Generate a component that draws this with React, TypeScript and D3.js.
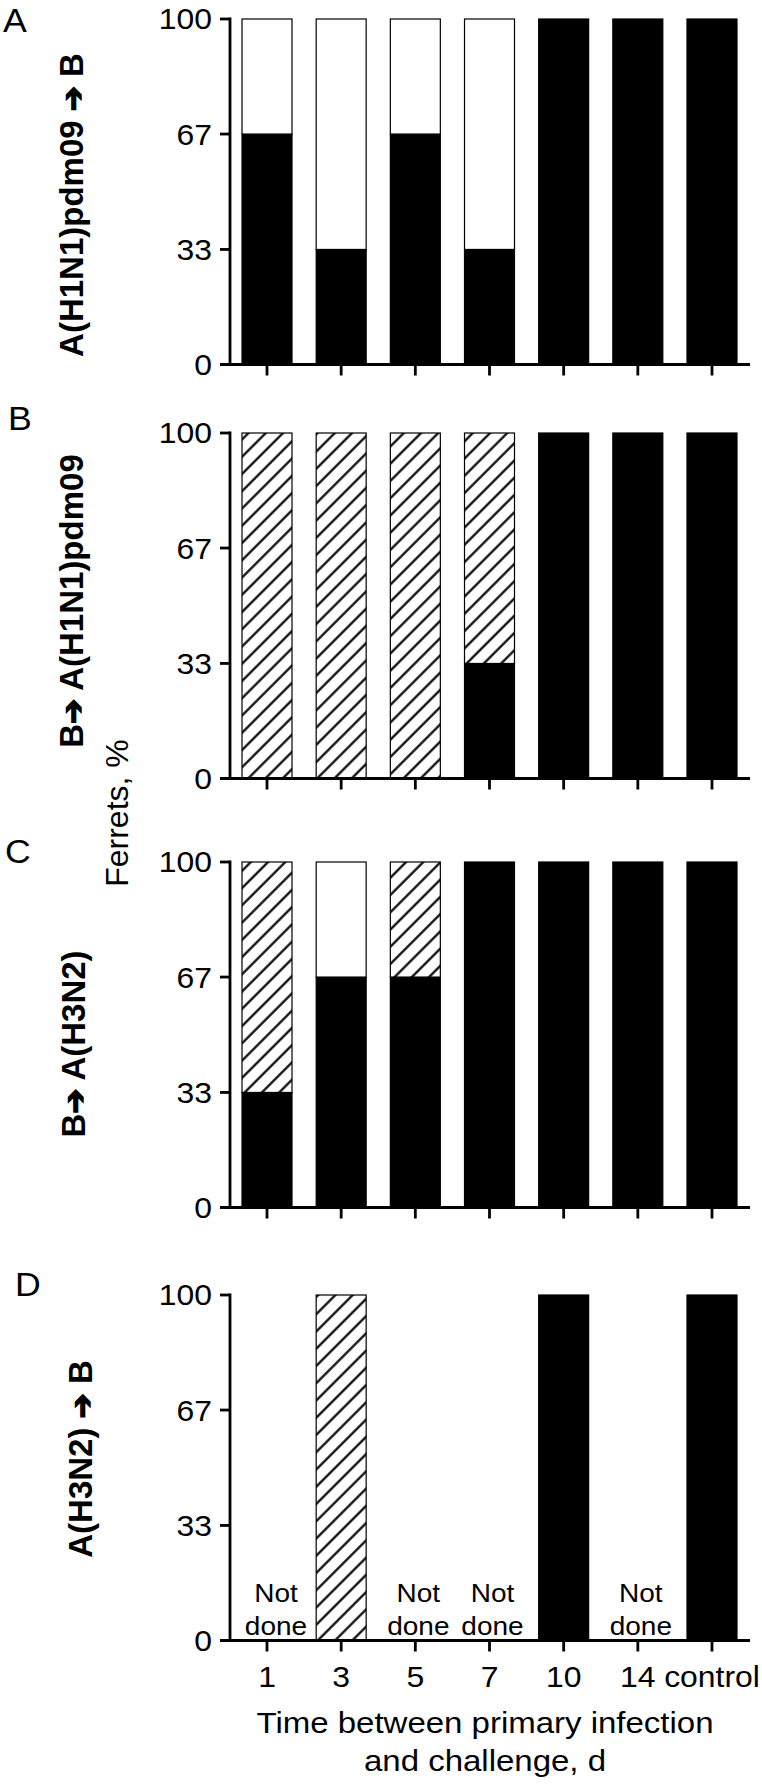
import React, { useEffect } from "react";
import * as d3 from "d3";

// ---------- data ----------
const categories = ["1", "3", "5", "7", "10", "14", "control"];
const yTickValues = [0, 33.3, 66.7, 100];
const yTickLabels = ["0", "33", "67", "100"];
const panelLetters = ["A", "B", "C", "D"];
const panelTitles = [
  ["A(H1N1)pdm09 ", "➔", " B"],
  ["B", "➔", " A(H1N1)pdm09"],
  ["B", "➔", " A(H3N2)"],
  ["A(H3N2) ", "➔", " B"],
];
const yAxisTitle = "Ferrets, %";
const xAxisTitle = ["Time between primary infection", "and challenge, d"];
const notDoneText = ["Not", "done"];

// per panel: black (bottom), hatched (middle), open/white (top)
const aBlack = [66.7, 33.3, 66.7, 33.3, 100, 100, 100];
const aHatched = [0, 0, 0, 0, 0, 0, 0];
const aOpen = [33.3, 66.7, 33.3, 66.7, 0, 0, 0];

const bBlack = [0, 0, 0, 33.3, 100, 100, 100];
const bHatched = [100, 100, 100, 66.7, 0, 0, 0];
const bOpen = [0, 0, 0, 0, 0, 0, 0];

const cBlack = [33.3, 66.7, 66.7, 100, 100, 100, 100];
const cHatched = [66.7, 0, 33.3, 0, 0, 0, 0];
const cOpen = [0, 33.3, 0, 0, 0, 0, 0];

const dBlack = [0, 0, 0, 0, 100, 0, 100];
const dHatched = [0, 100, 0, 0, 0, 0, 0];
const dOpen = [0, 0, 0, 0, 0, 0, 0];
const dDone = [false, true, false, false, true, false, true];

const panelSeries = [
  { black: aBlack, hatched: aHatched, open: aOpen, done: null as boolean[] | null },
  { black: bBlack, hatched: bHatched, open: bOpen, done: null },
  { black: cBlack, hatched: cHatched, open: cOpen, done: null },
  { black: dBlack, hatched: dHatched, open: dOpen, done: dDone },
];

// ---------- layout ----------
const W = 762;
const H = 1785;
const FONT = "'Liberation Sans', Arial, Helvetica, sans-serif";
const SX = 1.1; // horizontal stretch of the original typesetting
const panelTops = [19, 433, 862, 1295];
const panelH = 345.5;
const axisX = 230;
const letterPos = [
  [3, 32],
  [8, 430],
  [5, 863],
  [15, 1296],
];
const titlePos = [
  [83, 205],
  [83, 601],
  [85, 1044],
  [92, 1459],
];

const x = d3
  .scaleBand<string>()
  .domain(categories)
  .range([axisX, 749])
  .paddingInner(0.326)
  .paddingOuter(0.162);

const keys = ["black", "hatched", "open"] as const;
const fills: Record<string, string> = {
  black: "#000",
  hatched: "url(#hatch)",
  open: "#fff",
};

function SText({
  x: tx,
  y: ty,
  size,
  anchor = "start",
  sx = SX,
  dy,
  children,
}: {
  x: number;
  y: number;
  size: number;
  anchor?: string;
  sx?: number;
  dy?: string;
  children: React.ReactNode;
}) {
  return (
    <text
      transform={`translate(${tx},${ty}) scale(${sx},1)`}
      textAnchor={anchor as any}
      dy={dy}
      fontFamily={FONT}
      fontSize={size}
      fill="#000"
    >
      {children}
    </text>
  );
}

function Panel({ idx }: { idx: number }) {
  const top = panelTops[idx];
  const y = d3.scaleLinear().domain([0, 100]).range([top + panelH, top]);
  const s = panelSeries[idx];
  const rows = categories.map((c, i) => ({
    cat: c,
    black: s.black[i],
    hatched: s.hatched[i],
    open: s.open[i],
  }));
  const stack = d3.stack<any>().keys(keys as any)(rows);
  const bw = x.bandwidth();
  const isLast = idx === panelTops.length - 1;
  const [tx, ty] = titlePos[idx];
  const [lx, ly] = letterPos[idx];
  const title = panelTitles[idx];

  return (
    <g>
      {stack.map((layer) =>
        layer.map((d, i) => {
          const h = y(d[0]) - y(d[1]);
          if (h <= 0) return null;
          const key = layer.key;
          return (
            <rect
              key={key + i}
              x={x(categories[i])!}
              y={y(d[1])}
              width={bw}
              height={h}
              fill={fills[key]}
              stroke="#000"
              strokeWidth={1.2}
            />
          );
        })
      )}
      {s.done &&
        s.done.map((dn, i) => {
          if (dn) return null;
          const cx = x(categories[i])! + bw / 2 + (i === 0 ? 9 : 3);
          return (
            <g key={"nd" + i}>
              <SText x={cx} y={y(0) - 39} size={25} anchor="middle" sx={1.12}>
                {notDoneText[0]}
              </SText>
              <SText x={cx} y={y(0) - 6} size={25} anchor="middle" sx={1.12}>
                {notDoneText[1]}
              </SText>
            </g>
          );
        })}
      <line x1={axisX} x2={axisX} y1={y(100)} y2={y(0)} stroke="#000" strokeWidth={2.8} strokeLinecap="square" />
      {yTickValues.map((v, i) => (
        <g key={"yt" + i}>
          <line x1={axisX - 10} x2={axisX} y1={y(v)} y2={y(v)} stroke="#000" strokeWidth={2.8} />
          <SText x={212} y={y(v)} size={29} anchor="end" dy="0.36em">
            {yTickLabels[i]}
          </SText>
        </g>
      ))}
      <line x1={axisX - 10} x2={750} y1={y(0)} y2={y(0)} stroke="#000" strokeWidth={2.8} />
      {categories.map((c) => (
        <line
          key={"xt" + c}
          x1={x(c)! + bw / 2}
          x2={x(c)! + bw / 2}
          y1={y(0)}
          y2={y(0) + 11}
          stroke="#000"
          strokeWidth={2.8}
        />
      ))}
      {isLast &&
        categories.map((c) => (
          <SText key={"xl" + c} x={x(c)! + bw / 2} y={y(0) + 46} size={29} anchor="middle">
            {c}
          </SText>
        ))}
      <SText x={lx} y={ly} size={33} sx={1.08}>
        {panelLetters[idx]}
      </SText>
      <text
        transform={`translate(${tx},${ty}) rotate(-90)`}
        textAnchor="middle"
        fontFamily={FONT}
        fontWeight="bold"
        fontSize={33}
        fill="#000"
      >
        {title[0]}
        <tspan
          fontFamily="'DejaVu Sans', sans-serif"
          fontWeight="bold"
          fontSize={30}
          stroke="#000"
          strokeWidth={1.6}
        >
          {title[1]}
        </tspan>
        {title[2]}
      </text>
    </g>
  );
}

export default function App() {
  useEffect(() => {
    document.body.style.margin = "0";
  }, []);
  const zeroD = panelTops[3] + panelH;
  return (
    <svg
      width={W}
      height={H}
      viewBox={`0 0 ${W} ${H}`}
      style={{ position: "absolute", left: 0, top: 0, background: "#fff" }}
    >
      <defs>
        <pattern
          id="hatch"
          patternUnits="userSpaceOnUse"
          width={12.2}
          height={12.2}
          patternTransform="rotate(45)"
        >
          <rect width={12.2} height={12.2} fill="#fff" />
          <line x1={6.1} x2={6.1} y1={-1} y2={13.2} stroke="#000" strokeWidth={2.2} />
        </pattern>
      </defs>
      <rect width={W} height={H} fill="#fff" />
      {panelTops.map((_, i) => (
        <Panel key={i} idx={i} />
      ))}
      <text
        transform={`translate(128,813) rotate(-90)`}
        textAnchor="middle"
        fontFamily={FONT}
        fontSize={32}
        fill="#000"
      >
        {yAxisTitle}
      </text>
      <SText x={485} y={zeroD + 92} size={30} anchor="middle">
        {xAxisTitle[0]}
      </SText>
      <SText x={485} y={zeroD + 130} size={30} anchor="middle">
        {xAxisTitle[1]}
      </SText>
    </svg>
  );
}
